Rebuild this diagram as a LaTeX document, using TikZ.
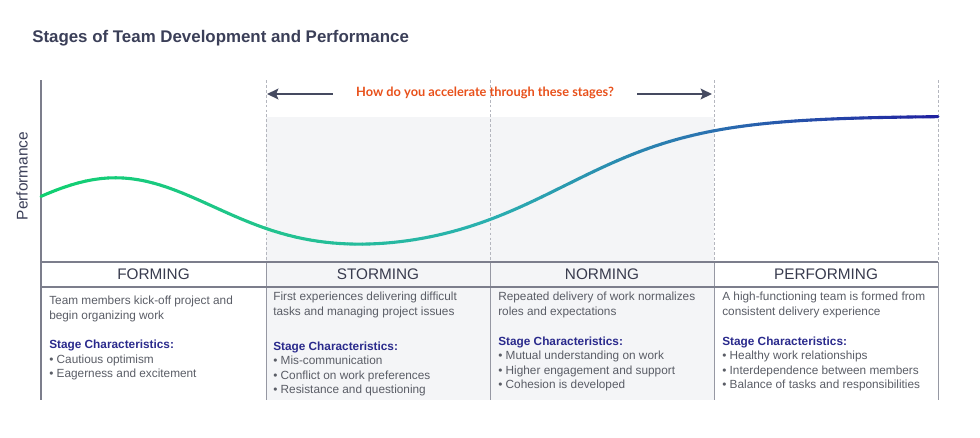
\documentclass[tikz,border=0pt]{standalone}
\usepackage{fontspec}
\setmainfont{Liberation Sans}
\newfontfamily\latofont{Lato}
\usetikzlibrary{arrows.meta}

\definecolor{titleink}{HTML}{3B3F58}
\definecolor{headink}{HTML}{383B4E}
\definecolor{bodyink}{HTML}{5A5D66}
\definecolor{charink}{HTML}{2A2A8C}
\definecolor{accelink}{HTML}{E8501A}
\definecolor{arrowink}{HTML}{454A60}
\definecolor{stageshade}{HTML}{F4F5F7}
\definecolor{ruleink}{HTML}{7C7E8C}
\definecolor{guideink}{HTML}{B4B6BE}
\definecolor{st0}{HTML}{10D070}
\definecolor{st1}{HTML}{22C48E}
\definecolor{st2}{HTML}{2AB0B0}
\definecolor{st3}{HTML}{2A70B0}
\definecolor{st4}{HTML}{2020A0}

\begin{document}
\begin{tikzpicture}[x=0.025cm,y=-0.025cm,
		declare function={perf(\x)=262-(7+139/(1+exp(min(9,(565-\x)/70)))+77*exp(-min(9,((\x-115)/100)*((\x-115)/100)/2)));},
		stagehead/.style = {font=\fontsize{10.9}{13}\selectfont, text=headink},
		stagetext/.style = {anchor=north west, inner sep=0pt, align=left, font=\fontsize{8.4}{10.3}\selectfont, text=bodyink},
		guide/.style = {guideink, line width=0.6pt, dash pattern=on 2pt off 1.5pt},
		tablerule/.style = {ruleink, line width=0.9pt},
		colrule/.style = {ruleink!80, line width=0.7pt},
		accel/.style = {arrowink, line width=2pt, -{Stealth[length=8pt,width=7.5pt,inset=1.5pt]}},
		curve/.style = {line width=2.2pt, line cap=round}
			]
		\useasboundingbox (0,0) rectangle (980,437);

		% shaded middle stages
		\fill[stageshade] (266,117) rectangle (714,400);

		% grid
		\foreach \x in {266,490,714,938}
			\draw[guide] (\x,80) -- (\x,262);
		\draw[ruleink, line width=0.8pt] (41,80) -- (41,400);
		\foreach \x in {266,490,714,938}
			\draw[colrule] (\x,262) -- (\x,400);
		\draw[tablerule] (41,262) -- (938,262);
		\draw[tablerule] (41,287) -- (938,287);

		% title and axis
		\node[anchor=west, inner sep=0pt, text=titleink, font=\fontsize{12}{14}\selectfont\bfseries] (title) at (32,38) {Stages of Team Development and Performance};
		\node[rotate=90, text=titleink, font=\fontsize{11}{13}\selectfont] (ylabel) at (22,176) {Performance};

		% accelerate arrows
		\node[text=accelink, font=\latofont\fontsize{9.1}{11}\selectfont\bfseries] (q) at (485,93) {How do you accelerate through these stages?};
		\coordinate (lt) at (267,94);
		\coordinate (rt) at (712,94);
		\draw[accel, shorten <=13pt] (q.west |- lt) -- (lt);
		\draw[accel, shorten <=13pt] (q.east |- rt) -- (rt);

		% performance curve
		\foreach \i in {0,...,119}{
			\pgfmathsetmacro\xa{41+\i*7.475}
			\pgfmathsetmacro\xb{41+(\i+1)*7.475}
			\pgfmathsetmacro\ya{perf(\xa)}
			\pgfmathsetmacro\yb{perf(\xb)}
			\pgfmathtruncatemacro\seg{min(3,floor(\i/30))}
			\pgfmathtruncatemacro\nxt{\seg+1}
			\pgfmathtruncatemacro\loc{(\i+0.5-30*\seg)*100/30}
			\draw[curve, draw=st\nxt!\loc!st\seg] (\xa,\ya) -- (\xb,\yb);
		}

		% stage headers
		\node[stagehead] (forming) at (153.5,274.5) {FORMING};
		\node[stagehead] (storming) at (378,274.5) {STORMING};
		\node[stagehead] (norming) at (602,274.5) {NORMING};
		\node[stagehead] (performing) at (826,274.5) {PERFORMING};

		% stage descriptions
		\node[stagetext] (formtext) at (49,296) {Team members kick-off project and\\begin organizing work\\[10.5pt]
			\textcolor{charink}{\bfseries Stage Characteristics:}\\• Cautious optimism\\• Eagerness and excitement};
		\node[stagetext] (stormtext) at (273,292) {First experiences delivering difficult\\tasks and managing project issues\\[14.5pt]
			\textcolor{charink}{\bfseries Stage Characteristics:}\\• Mis-communication\\• Conflict on work preferences\\• Resistance and questioning};
		\node[stagetext] (normtext) at (498,292) {Repeated delivery of work normalizes\\roles and expectations\\[11pt]
			\textcolor{charink}{\bfseries Stage Characteristics:}\\• Mutual understanding on work\\• Higher engagement and support\\• Cohesion is developed};
		\node[stagetext] (perftext) at (722,292) {A high-functioning team is formed from\\consistent delivery experience\\[11pt]
			\textcolor{charink}{\bfseries Stage Characteristics:}\\• Healthy work relationships\\• Interdependence between members\\• Balance of tasks and responsibilities};

	\end{tikzpicture}
\end{document}
